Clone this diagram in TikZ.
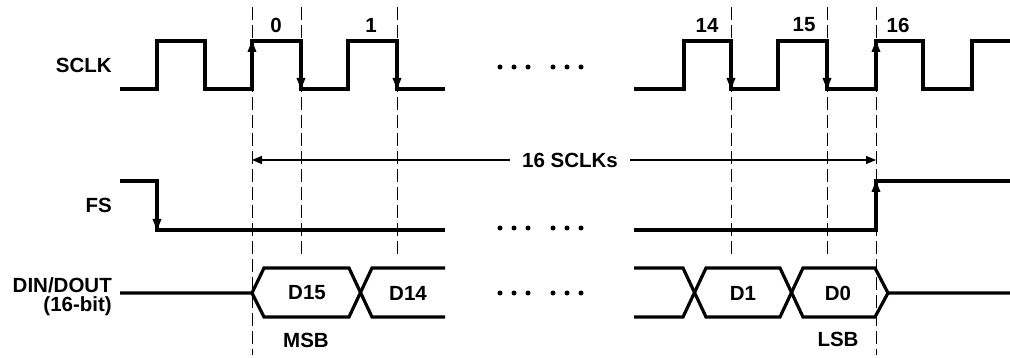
\documentclass[tikz,border=0pt]{standalone}
\usepackage{fontspec}
\setmainfont{Liberation Sans}
\usetikzlibrary{arrows.meta}
\tikzset{
  sig/.style={line width=3.2pt, line join=miter, line cap=butt},
  edgearrow/.style={line width=3.2pt, -{Triangle[length=12pt,width=8pt]}},
  guide/.style={line width=1pt, dash pattern=on 13pt off 5pt},
  dimarrow/.style={line width=1.1pt, -{Triangle[length=10pt,width=8pt]}},
  lbl/.style={font=\fontsize{20.5}{24}\selectfont\bfseries, inner sep=0pt},
  dot/.style={circle, fill=black, inner sep=0pt, minimum size=5pt}
}
\begin{document}
\begin{tikzpicture}[x=1pt,y=-1pt]
\useasboundingbox (0,0) rectangle (1010,358);

% guide lines
\foreach \x in {252,876} \draw[guide] (\x,7) -- (\x,355);
\foreach \x in {301,397,731,827} \draw[guide] (\x,7) -- (\x,258);

% labels
\node[lbl, anchor=east] (sclk) at (112,65) {SCLK};
\node[lbl, anchor=east] (fs) at (112,205) {FS};
\node[lbl, anchor=east] (din) at (112,285) {DIN/DOUT};
\node[lbl, anchor=east] (bits) at (112,306) {(16-bit)};

\node[lbl] (n0) at (276,25) {0};
\node[lbl] (n1) at (371,25) {1};
\node[lbl] (n14) at (707,25) {14};
\node[lbl] (n15) at (804,25) {15};
\node[lbl] (n16) at (898,25) {16};

% SCLK
\draw[sig] (120,89) -- (157,89) -- (157,41) -- (205,41) -- (205,89) -- (252,89) -- (252,41) -- (301,41) -- (301,89) -- (348,89) -- (348,41) -- (397,41) -- (397,89) -- (445,89);
\draw[sig] (634,89) -- (684,89) -- (684,41) -- (731,41) -- (731,89) -- (778,89) -- (778,41) -- (827,41) -- (827,89) -- (876,89) -- (876,41) -- (923,41) -- (923,89) -- (972,89) -- (972,41) -- (1010,41);
\draw[edgearrow] (252,75) -- (252,40);
\draw[edgearrow] (301,55) -- (301,90);
\draw[edgearrow] (397,55) -- (397,90);
\draw[edgearrow] (731,55) -- (731,90);
\draw[edgearrow] (827,55) -- (827,90);
\draw[edgearrow] (876,75) -- (876,40);

% 16 SCLKs
\node[lbl, inner xsep=12pt] (span) at (570,160) {16 SCLKs};
\coordinate (spanL) at (252,160);
\coordinate (spanR) at (876,160);
\draw[dimarrow] (span.west) -- (spanL);
\draw[dimarrow] (span.east) -- (spanR);

% FS
\draw[sig] (120,181) -- (157,181) -- (157,230) -- (445,230);
\draw[sig] (634,230) -- (876,230) -- (876,181) -- (1010,181);
\draw[edgearrow] (157,200) -- (157,231);
\draw[edgearrow] (876,215) -- (876,180);

% DIN/DOUT
\draw[sig] (120,293) -- (252,293) -- (264,268) -- (349,268) -- (372,317) -- (445,317);
\draw[sig] (252,293) -- (264,317) -- (349,317) -- (372,268) -- (445,268);
\draw[sig] (634,268) -- (683,268) -- (706,317) -- (780,317) -- (803,268) -- (875,268) -- (888,293) -- (1010,293);
\draw[sig] (634,317) -- (683,317) -- (706,268) -- (780,268) -- (803,317) -- (875,317) -- (888,293);

\node[lbl] (d15) at (307,293) {D15};
\node[lbl] (d14) at (408,293) {D14};
\node[lbl] (d1) at (743,293) {D1};
\node[lbl] (d0) at (838,293) {D0};
\node[lbl] (msb) at (306,340) {MSB};
\node[lbl] (lsb) at (838,339) {LSB};

% ellipsis dots
\foreach \y in {67,228,293}
  \foreach \x in {500,514,528,553,567,581}
    \node[dot] at (\x,\y) {};
\end{tikzpicture}
\end{document}
